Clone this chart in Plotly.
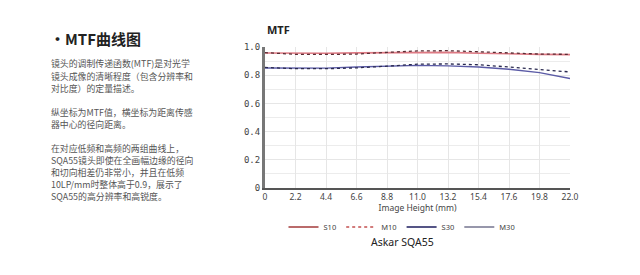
import plotly.graph_objects as go

image_height = [0, 2.2, 4.4, 6.6, 8.8, 11.0, 13.2, 15.4, 17.6, 19.8, 22.0]
s10 = [0.957, 0.955, 0.956, 0.958, 0.960, 0.963, 0.962, 0.956, 0.950, 0.948, 0.946]
m10 = [0.960, 0.948, 0.947, 0.950, 0.962, 0.972, 0.974, 0.966, 0.956, 0.950, 0.948]
s30 = [0.851, 0.848, 0.850, 0.858, 0.864, 0.870, 0.866, 0.858, 0.842, 0.818, 0.776]
m30 = [0.855, 0.846, 0.846, 0.852, 0.864, 0.878, 0.880, 0.874, 0.858, 0.842, 0.823]

x_ticks = [0, 2.2, 4.4, 6.6, 8.8, 11.0, 13.2, 15.4, 17.6, 19.8, 22.0]
x_tick_text = ["0", "2.2", "4.4", "6.6", "8.8", "11.0", "13.2", "15.4", "17.6", "19.8", "22.0"]
y_ticks = [0, 0.2, 0.4, 0.6, 0.8, 1.0]
y_tick_text = ["0", "0.2", "0.4", "0.6", "0.8", "1.0"]

legend_names = ["S10", "M10", "S30", "M30"]

title_text = "·MTF曲线图"
para_lines = [
    ("镜头的调制传递函数(MTF)是对光学", 64),
    ("镜头成像的清晰程度（包含分辨率和", 76),
    ("对比度）的定量描述。", 88),
    ("纵坐标为MTF值，横坐标为距离传感", 112),
    ("器中心的径向距离。", 124),
    ("在对应低频和高频的两组曲线上，", 148),
    ("SQA55镜头即使在全画幅边缘的径向", 160),
    ("和切向相差仍非常小，并且在低频", 172),
    ("10LP/mm时整体高于0.9，展示了", 184),
    ("SQA55的高分辨率和高锐度。", 196),
]

W, H = 640, 275
L, R, T, B = 265, 70, 47, 87
PW, PH = W - L - R, H - T - B


def px(x):
    return (x - L) / PW


def py(y):
    return (H - B - y) / PH


fig = go.Figure()

# actual curves
fig.add_trace(go.Scatter(x=image_height, y=s10, mode="lines", showlegend=False,
                         line=dict(color="#de7a84", width=1.6)))
fig.add_trace(go.Scatter(x=image_height, y=m10, mode="lines", showlegend=False,
                         line=dict(color="#5a2c34", width=1.3, dash="dot")))
fig.add_trace(go.Scatter(x=image_height, y=s30, mode="lines", showlegend=False,
                         line=dict(color="#5b5ba6", width=1.4)))
fig.add_trace(go.Scatter(x=image_height, y=m30, mode="lines", showlegend=False,
                         line=dict(color="#2a2a50", width=1.3, dash="dot")))

# legend entries
leg_styles = [("#a33a3a", "solid"), ("#c45050", "dot"), ("#1c1c5e", "solid"), ("#75758f", "solid")]
for name, (c, d) in zip(legend_names, leg_styles):
    fig.add_trace(go.Scatter(x=[None], y=[None], mode="lines", name=name,
                             line=dict(color=c, width=1.3, dash=d)))

fig.update_layout(
    width=W, height=H,
    margin=dict(l=L, r=R, t=T, b=B),
    paper_bgcolor="white", plot_bgcolor="white",
    font=dict(family="Noto Sans, Open Sans, sans-serif", color="#333"),
    showlegend=True,
    legend=dict(orientation="h", x=px(402), xanchor="center", y=py(227), yanchor="middle",
                font=dict(size=7.5, color="#444"), itemwidth=30, tracegroupgap=0,
                bgcolor="rgba(0,0,0,0)"),
)
fig.update_xaxes(
    range=[0, 22], tickvals=x_ticks, ticktext=x_tick_text,
    showgrid=True, gridcolor="#e6e6e6", gridwidth=1,
    showline=True, linecolor="#555", linewidth=2,
    ticks="", tickfont=dict(size=8.5, color="#444", family="Noto Sans"),
    zeroline=False,
    title=dict(text="Image Height (mm)", font=dict(size=8.5, color="#444"), standoff=4),
)
fig.update_yaxes(
    range=[0, 1.0], tickvals=y_ticks, ticktext=y_tick_text,
    showgrid=True, gridcolor="#e6e6e6", gridwidth=1,
    minor=dict(dtick=0.1, showgrid=True, gridcolor="#ececec", gridwidth=1),
    showline=True, linecolor="#777", linewidth=3,
    ticks="", tickfont=dict(size=9, color="#444", family="DejaVu Sans Mono"),
    zeroline=False,
)

ann = []
ann.append(dict(text="<b>MTF</b>", x=px(265), y=py(30), xref="paper", yref="paper",
                xanchor="left", yanchor="middle", showarrow=False,
                font=dict(size=11, color="#222", family="Noto Sans")))
ann.append(dict(text="Askar SQA55", x=px(402), y=py(242), xref="paper", yref="paper",
                xanchor="center", yanchor="middle", showarrow=False,
                font=dict(size=10.5, color="#222", family="Noto Sans")))
ann.append(dict(text="<b>" + title_text + "</b>", x=px(48), y=py(38), xref="paper", yref="paper",
                xanchor="left", yanchor="middle", showarrow=False,
                font=dict(size=15, color="#222", family="Noto Sans CJK SC")))
for t, yy in para_lines:
    ann.append(dict(text=t, x=px(49), y=py(yy), xref="paper", yref="paper",
                    xanchor="left", yanchor="middle", showarrow=False,
                    font=dict(size=8.9, color="#555", family="Noto Sans CJK SC")))
fig.update_layout(annotations=ann)

fig.write_html("out.html")
